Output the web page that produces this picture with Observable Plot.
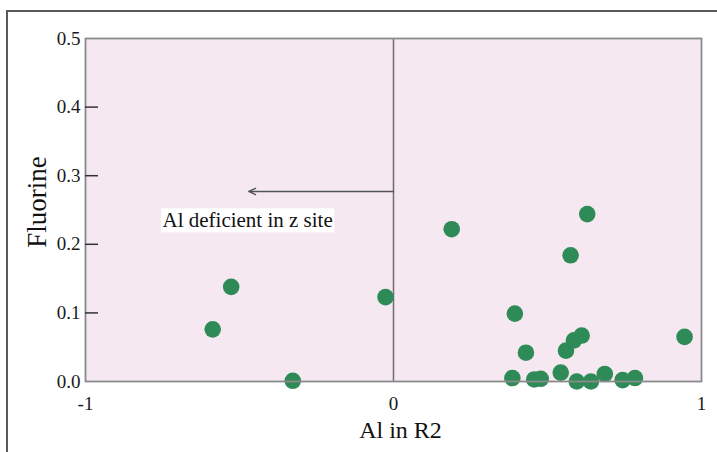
<!DOCTYPE html>
<html>
<head>
<meta charset="utf-8">
<script src="https://cdn.jsdelivr.net/npm/d3@7"></script>
<script src="https://cdn.jsdelivr.net/npm/@observablehq/plot@0.6"></script>
<style>
  html, body { margin: 0; padding: 0; background: #fff; overflow: hidden; }
  #wrap { position: relative; width: 717px; height: 452px; }
  #border { position: absolute; left: 6px; top: 10px; width: 760px; height: 500px;
            border-left: 2px solid #5a5a5a; border-top: 2px solid #5a5a5a; pointer-events: none; }
  #wrap svg, #wrap svg text { font-family: 'Liberation Serif', 'Times New Roman', Times, serif !important; }
</style>
</head>
<body>
<div id="wrap"><div id="border"></div></div>
<script>
// Data: Al in R2 vs Fluorine
const alR2 = [-0.527, -0.587, -0.327, -0.026, 0.189, 0.629, 0.575, 0.394, 0.430, 0.560, 0.586, 0.611, 0.945,
              0.386, 0.457, 0.478, 0.543, 0.595, 0.641, 0.686, 0.744, 0.784];
const fluorine = [0.138, 0.076, 0.001, 0.123, 0.222, 0.244, 0.184, 0.099, 0.042, 0.045, 0.060, 0.067, 0.065,
                  0.005, 0.003, 0.004, 0.013, 0.000, 0.000, 0.011, 0.002, 0.005];

const xTicks = [-1, 0, 1];
const xTickLabels = ["-1", "0", "1"];
const yTicks = [0, 0.1, 0.2, 0.3, 0.4, 0.5];
const yTickLabels = ["0.0", "0.1", "0.2", "0.3", "0.4", "0.5"];

const xLabel = ["Al in R2"];
const yLabel = ["Fluorine"];

const annotationText = ["Al deficient in z site"];
const annotationX = [-0.75];
const annotationY = [0.2345];
const arrowFromX = [0];
const arrowToX = [-0.47];
const arrowY = [0.277];
const dividerX = [0];

const points = alR2.map((x, i) => ({x, y: fluorine[i]}));
const annotation = annotationText.map((t, i) => ({t, x: annotationX[i], y: annotationY[i]}));
const arrows = arrowFromX.map((x1, i) => ({x1, x2: arrowToX[i], y: arrowY[i]}));

const serif = "'Liberation Serif', 'Times New Roman', Times, serif";

const svg = Plot.plot({
  width: 717,
  height: 452,
  marginLeft: 85,
  marginRight: 16,
  marginTop: 38,
  marginBottom: 71,
  x: {domain: [-1, 1]},
  y: {domain: [0, 0.5]},
  style: {fontFamily: serif, color: "#1a1a1a", background: "transparent", overflow: "visible"},
  marks: [
    Plot.frame({fill: "#f5e8f0"}),
    Plot.ruleX(dividerX, {stroke: "#6e6e6e", strokeWidth: 1.5}),
    Plot.arrow(arrows, {x1: "x1", x2: "x2", y1: "y", y2: "y", stroke: "#555", strokeWidth: 1.4, headLength: 8, headAngle: 50}),
    Plot.text(annotation, {x: "x", y: "y", text: "t", textAnchor: "start", lineAnchor: "middle", fontSize: 21, fontFamily: serif, fill: "#111"}),
    Plot.dot(points, {x: "x", y: "y", r: 8.3, fill: "#2e8b57", fillOpacity: 1}),
    Plot.frame({stroke: "#8a8a8a", strokeWidth: 1.8}),
    Plot.axisY({ticks: yTicks, tickSize: 0, tickPadding: 5, fontSize: 19, fontFamily: serif, label: null,
                tickFormat: d => yTickLabels[yTicks.findIndex(v => Math.abs(v - d) < 1e-9)]}),
    Plot.axisY({ticks: yTicks.slice(1, -1), tickSize: 13, dx: 13, fill: "none", label: null, stroke: "#333", strokeWidth: 1.5}),
    Plot.axisX({ticks: xTicks, tickSize: 0, tickPadding: 15, fontSize: 19, fontFamily: serif, label: null,
                tickFormat: d => xTickLabels[xTicks.indexOf(d)]}),
    Plot.text(yLabel, {frameAnchor: "left", textAnchor: "middle", lineAnchor: "middle", dx: -48, dy: -8, rotate: -90, fontSize: 27, fontFamily: serif, fill: "#111"}),
    Plot.text(xLabel, {frameAnchor: "bottom", textAnchor: "middle", lineAnchor: "middle", dy: 49, dx: 7, fontSize: 24, fontFamily: serif, fill: "#111"})
  ]
});

svg.style.position = "absolute";
svg.style.left = "0";
svg.style.top = "0";
document.getElementById("wrap").appendChild(svg);

// white box behind the annotation text
d3.select(svg).selectAll("text")
  .filter(function() { return this.textContent === annotationText[0]; })
  .each(function() {
    const bb = this.getBBox();
    const pad = 1.5;
    const rect = document.createElementNS("http://www.w3.org/2000/svg", "rect");
    rect.setAttribute("x", bb.x - pad);
    rect.setAttribute("y", bb.y);
    rect.setAttribute("width", bb.width + 2 * pad);
    rect.setAttribute("height", bb.height);
    rect.setAttribute("fill", "#fff");
    const tr = this.getAttribute("transform");
    if (tr) rect.setAttribute("transform", tr);
    this.parentNode.insertBefore(rect, this);
  });
</script>
</body>
</html>
